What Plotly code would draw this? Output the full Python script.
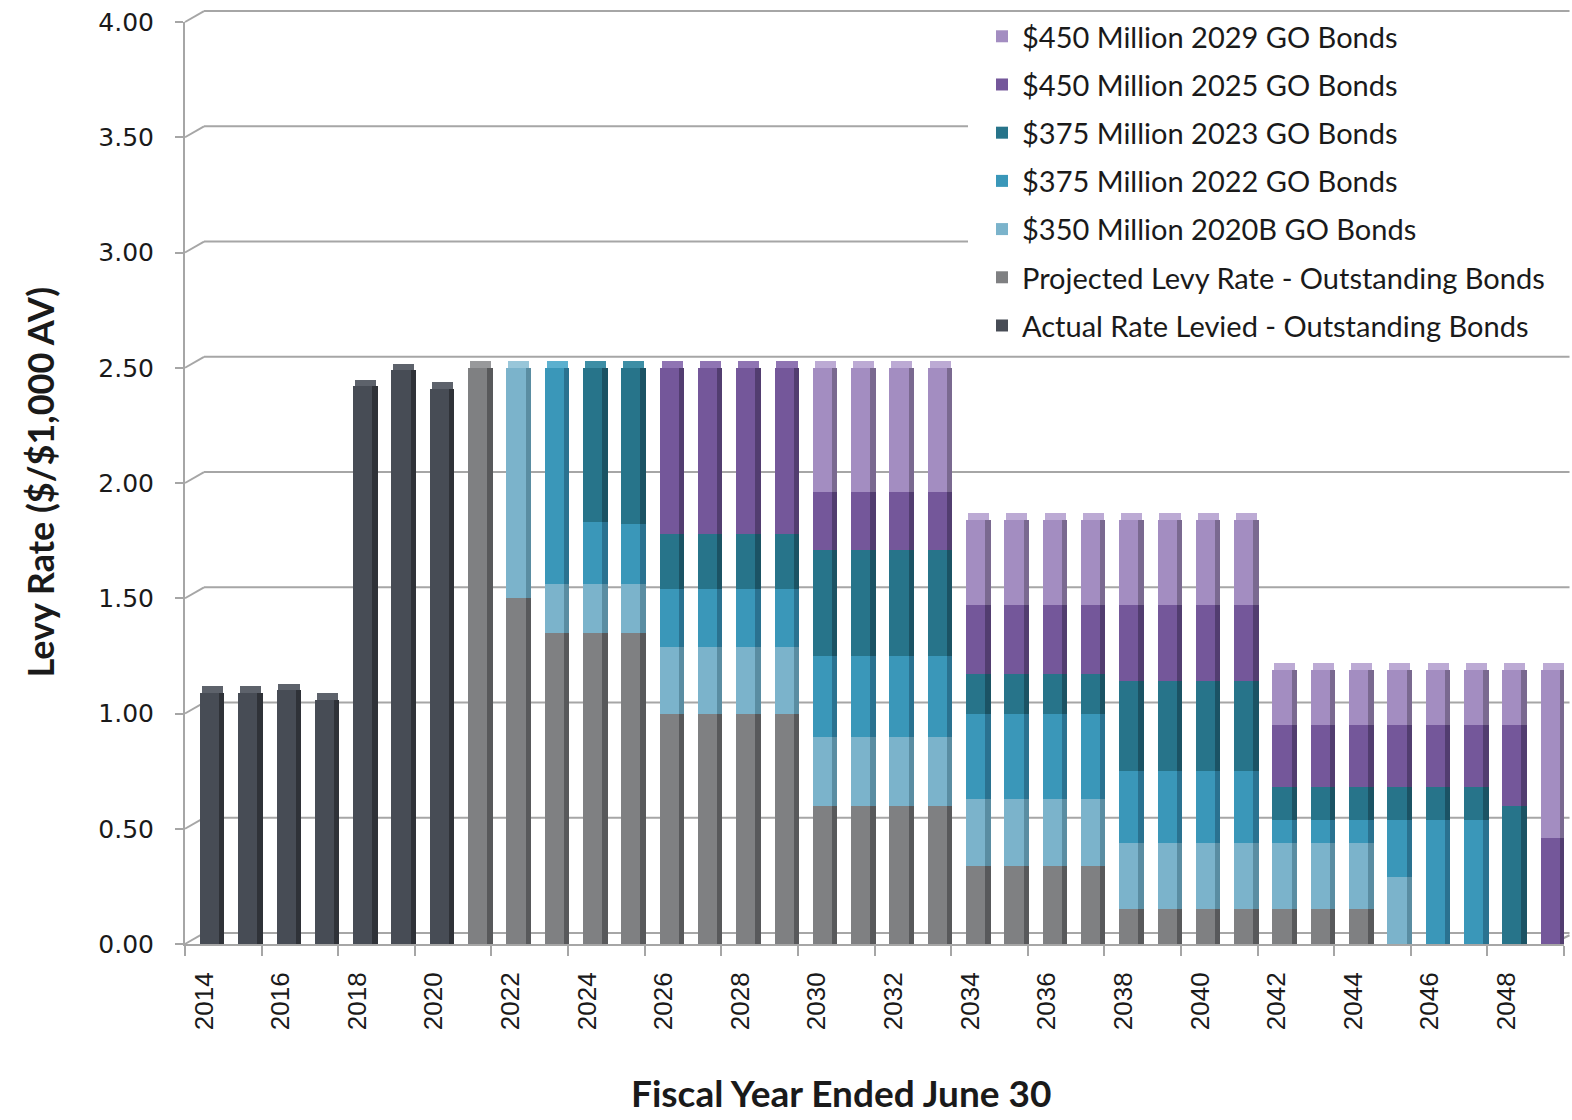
import numpy as np
import plotly.graph_objects as go

# Fiscal years ended June 30
years = list(range(2014, 2050))

# Levy rate components ($ per $1,000 assessed value), bottom of stack first
actual_levied = [1.09, 1.09, 1.10, 1.06, 2.42, 2.49, 2.41] + [0] * 29
projected_outstanding = ([0] * 7 + [2.50, 1.50, 1.35, 1.35, 1.35] + [1.00] * 4 + [0.60] * 4
                         + [0.34] * 4 + [0.15] * 7 + [0] * 5)
go_2020b = ([0] * 8 + [1.00, 0.21, 0.21, 0.21] + [0.29] * 4 + [0.30] * 4 + [0.29] * 4
            + [0.29] * 4 + [0.29] * 3 + [0.29] + [0] * 4)
go_2022 = ([0] * 9 + [0.94, 0.27, 0.26] + [0.25] * 4 + [0.35] * 4 + [0.37] * 4
           + [0.31] * 4 + [0.10] * 3 + [0.25, 0.54, 0.54, 0, 0])
go_2023 = ([0] * 10 + [0.67, 0.68] + [0.24] * 4 + [0.46] * 4 + [0.17] * 4
           + [0.39] * 4 + [0.14] * 3 + [0.14, 0.14, 0.14, 0.60, 0])
go_2025 = ([0] * 12 + [0.72] * 4 + [0.25] * 4 + [0.30] * 4 + [0.33] * 4
           + [0.27] * 3 + [0.27, 0.27, 0.27, 0.35, 0.46])
go_2029 = ([0] * 16 + [0.54] * 4 + [0.37] * 4 + [0.37] * 4
           + [0.24] * 3 + [0.24, 0.24, 0.24, 0.24, 0.73])

series_names = [
    "Actual Rate Levied - Outstanding Bonds",
    "Projected Levy Rate - Outstanding Bonds",
    "$350 Million 2020B GO Bonds",
    "$375 Million 2022 GO Bonds",
    "$375 Million 2023 GO Bonds",
    "$450 Million 2025 GO Bonds",
    "$450 Million 2029 GO Bonds",
]
series_values = [actual_levied, projected_outstanding, go_2020b, go_2022,
                 go_2023, go_2025, go_2029]
front_colors = ["#474c55", "#7f8082", "#7bb3cb", "#3a97b9", "#27748a", "#74579a", "#a38dc1"]
side_colors = ["#2f3238", "#58595b", "#5a8da2", "#2a7290", "#1b5364", "#523d70", "#7a6990"]
top_colors = ["#5d626b", "#98999b", "#98c6d9", "#5bb0cf", "#3d8ea5", "#8f74b3", "#bcaad4"]

y_ticks = [0, 0.5, 1.0, 1.5, 2.0, 2.5, 3.0, 3.5, 4.0]
x_ticks = list(range(2014, 2050, 2))

fig = go.Figure()

vals = np.array(series_values, dtype=float)
bases = np.vstack([np.zeros(len(years)), np.cumsum(vals, axis=0)[:-1]])
totals = vals.sum(axis=0)

for i, name in enumerate(series_names):
    v = vals[i]
    b = bases[i]
    mask = v > 0
    xs = [y for y, m in zip(years, mask) if m]
    # darker right-hand side face of each block
    fig.add_trace(go.Bar(
        x=xs, y=v[mask], base=b[mask], width=0.14, offset=0.39,
        marker=dict(color=side_colors[i], line=dict(width=0)),
        showlegend=False, legendgroup=name, hoverinfo="skip",
    ))
    # front face
    fig.add_trace(go.Bar(
        x=xs, y=v[mask], base=b[mask], width=0.50, offset=-0.11,
        marker=dict(color=front_colors[i], line=dict(width=0)),
        name=name, legendgroup=name, legendrank=len(series_names) - i,
    ))

# lighter cap on top of each column, coloured like its top segment
top_idx = [max(j for j in range(len(series_names)) if vals[j, k] > 0) for k in range(len(years))]
for i in range(len(series_names)):
    xs = [years[k] for k in range(len(years)) if top_idx[k] == i]
    tt = [totals[k] for k in range(len(years)) if top_idx[k] == i]
    if xs:
        fig.add_trace(go.Bar(
            x=xs, y=[0.028] * len(xs), base=tt, width=0.55, offset=-0.06,
            marker=dict(color=top_colors[i], line=dict(width=0)),
            showlegend=False, legendgroup=series_names[i], hoverinfo="skip",
        ))

# back-wall gridlines with a short diagonal back to the value axis
grid_color = "#a6a6a6"
plot_h, plot_w = 925.0, 1379.0
dx, dy = 19 / plot_w, 11 / plot_h
shapes = []
for t in y_ticks:
    yp = t / 4.0
    shapes.append(dict(type="line", xref="paper", yref="paper", x0=0, y0=yp,
                       x1=dx, y1=yp + dy, line=dict(color=grid_color, width=2), layer="below"))
    shapes.append(dict(type="line", xref="paper", yref="paper", x0=dx, y0=yp + dy,
                       x1=1.004, y1=yp + dy, line=dict(color=grid_color, width=2), layer="below"))
# right end of the floor
shapes.append(dict(type="line", xref="paper", yref="paper", x0=0.991, y0=0,
                   x1=1.004, y1=dy * 0.8, line=dict(color=grid_color, width=2), layer="below"))
# white panel behind the legend
shapes.append(dict(type="rect", xref="paper", yref="paper",
                   x0=(968 - 185) / plot_w, x1=1.01,
                   y0=(944 - 345) / plot_h, y1=(944 - 16) / plot_h,
                   fillcolor="white", line=dict(width=0), layer="below"))

title_font = dict(family="Lato, sans-serif", size=37, color="#1a1a1a")
annotations = [
    dict(text="<b>Fiscal Year Ended June 30</b>", xref="paper", yref="paper",
         x=(841 - 185) / plot_w, y=-(1093 - 944) / plot_h, xanchor="center", yanchor="middle",
         showarrow=False, font=title_font),
    dict(text="<b>Levy Rate ($/$1,000 AV)</b>", xref="paper", yref="paper",
         x=-(185 - 40) / plot_w, y=(944 - 481) / plot_h, xanchor="center", yanchor="middle",
         textangle=-90, showarrow=False, font=dict(title_font, size=36)),
]

fig.update_layout(
    width=1572, height=1120,
    margin=dict(l=185, r=8, t=19, b=176),
    plot_bgcolor="white", paper_bgcolor="white",
    barmode="overlay",
    bargap=0,
    shapes=shapes,
    annotations=annotations,
    font=dict(family="Lato, sans-serif", color="#1a1a1a"),
    legend=dict(
        x=(982 - 185) / plot_w, y=1.012, xanchor="left", yanchor="top",
        bgcolor="rgba(255,255,255,0)",
        font=dict(family="Lato, sans-serif", size=29, color="#1a1a1a"),
        traceorder="grouped", tracegroupgap=7.5,
        itemwidth=30,
    ),
    xaxis=dict(
        range=[2013.5, 2049.5],
        tickmode="array", tickvals=x_ticks, ticktext=[str(y) for y in x_ticks],
        tickangle=-90, ticks="", showgrid=False, zeroline=False,
        showline=True, linecolor=grid_color, linewidth=2,
        tickfont=dict(family="Liberation Sans, Arial, sans-serif", size=26, color="#1a1a1a"),
        ticklabelstandoff=16,
        minor=dict(tickmode="array", tickvals=[y - 0.5 for y in x_ticks] + [2049.5],
                   ticks="outside", ticklen=10, tickcolor=grid_color, tickwidth=2,
                   showgrid=False),
    ),
    yaxis=dict(
        range=[0, 4], tickmode="array", tickvals=y_ticks,
        ticktext=[f"{t:.2f}" for t in y_ticks],
        showgrid=False, zeroline=False,
        showline=True, linecolor=grid_color, linewidth=2,
        ticks="outside", ticklen=8, tickcolor=grid_color, tickwidth=2,
        tickfont=dict(family="DejaVu Sans, Verdana, sans-serif", size=25, color="#1a1a1a"),
        ticklabelstandoff=16,
    ),
)

fig.write_html("out.html")
